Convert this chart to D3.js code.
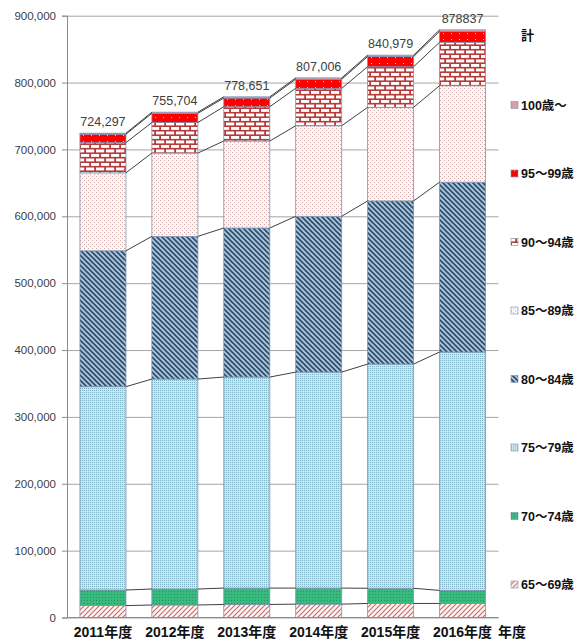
<!DOCTYPE html>
<html>
<head>
<meta charset="utf-8">
<script src="https://cdn.jsdelivr.net/npm/d3@7"></script>
<style>
  body { margin: 0; background: #fff; }
  svg { display: block; }
</style>
</head>
<body>
<svg id="chart" width="579" height="641"></svg>
<script>
// Fiscal years on the category axis
const years = ["2011年度", "2012年度", "2013年度", "2014年度", "2015年度", "2016年度"];
// Totals printed above each column
const totalLabels = ["724,297", "755,704", "778,651", "807,006", "840,979", "878837"];

// Counts per age band, one array per band
const age65_69 = [17800, 18700, 19500, 20000, 21000, 21000];
const age70_74 = [23300, 23900, 24500, 24000, 22700, 19500];
const age75_79 = [304100, 314000, 315600, 323000, 335300, 356500];
const age80_84 = [203200, 213400, 222900, 233000, 244000, 254000];
const age85_89 = [116600, 124600, 130100, 135400, 140000, 144300];
const age90_94 = [45200, 45600, 51300, 56000, 60700, 65000];
const age95_99 = [12600, 13800, 12900, 13600, 15200, 16200];
const age100up = [1497, 1704, 1851, 2006, 2079, 2337];

const seriesNames = ["65〜69歳", "70〜74歳", "75〜79歳", "80〜84歳", "85〜89歳", "90〜94歳", "95〜99歳", "100歳〜"];
const seriesValues = [age65_69, age70_74, age75_79, age80_84, age85_89, age90_94, age95_99, age100up];
const yTicks = [0, 100000, 200000, 300000, 400000, 500000, 600000, 700000, 800000, 900000];

const FONT = "'Liberation Sans', 'Noto Sans CJK JP', sans-serif";
const svg = d3.select("#chart");

// ---- fill patterns ----
const defs = svg.append("defs");
function pattern(id, w, h) {
  return defs.append("pattern").attr("id", id)
    .attr("patternUnits", "userSpaceOnUse").attr("width", w).attr("height", h);
}
// 65-69: thin pink up-diagonals on white
let p = pattern("p0", 5, 5);
p.append("rect").attr("width", 5).attr("height", 5).attr("fill", "#fdf4f4");
p.append("path").attr("d", "M-1,1 l2,-2 M0,5 l5,-5 M4,6 l2,-2")
  .attr("stroke", "#c46a6a").attr("stroke-width", 1.1);
// 70-74: green with fine dark dots
p = pattern("p1", 3, 3);
p.append("rect").attr("width", 3).attr("height", 3).attr("fill", "#38b97d");
p.append("rect").attr("width", 1).attr("height", 1).attr("fill", "#1f9862");
// 75-79: light blue stipple
p = pattern("p2", 2, 2);
p.append("rect").attr("width", 2).attr("height", 2).attr("fill", "#cfe5ec");
p.append("rect").attr("width", 1).attr("height", 1).attr("fill", "#7fb3c5");
// 80-84: navy down-diagonals on pale blue
p = pattern("p3", 5, 5);
p.append("rect").attr("width", 5).attr("height", 5).attr("fill", "#a9c6da");
p.append("path").attr("d", "M0,0 l5,5 M-1,4 l2,2 M4,-1 l2,2")
  .attr("stroke", "#2c4a6b").attr("stroke-width", 1.6);
// 85-89: sparse pink dots on white
p = pattern("p4", 4, 4);
p.append("rect").attr("width", 4).attr("height", 4).attr("fill", "#fdf8f8");
p.append("rect").attr("x", 0).attr("y", 0).attr("width", 1).attr("height", 1).attr("fill", "#d2a4a4");
p.append("rect").attr("x", 2).attr("y", 2).attr("width", 1).attr("height", 1).attr("fill", "#d2a4a4");
// 90-94: brick
p = pattern("p5", 10, 9);
p.append("rect").attr("width", 10).attr("height", 9).attr("fill", "#b63a3a");
p.append("rect").attr("x", 1).attr("y", 1).attr("width", 8.2).attr("height", 2.9).attr("fill", "#fff");
p.append("rect").attr("x", -4).attr("y", 5.5).attr("width", 8.2).attr("height", 2.9).attr("fill", "#fff");
p.append("rect").attr("x", 6).attr("y", 5.5).attr("width", 8.2).attr("height", 2.9).attr("fill", "#fff");
// 95-99: red with sparse light dots
p = pattern("p6", 8, 6);
p.append("rect").attr("width", 8).attr("height", 6).attr("fill", "#ff0000");
p.append("rect").attr("x", 3).attr("y", 3).attr("width", 1).attr("height", 1).attr("fill", "#ffb4b4");
// 100+: plain pink
p = pattern("p7", 4, 4);
p.append("rect").attr("width", 4).attr("height", 4).attr("fill", "#d8a0a6");

// ---- data table and stack ----
const table = years.map((yr, i) => {
  const row = { year: yr };
  seriesNames.forEach((s, k) => { row[s] = seriesValues[k][i]; });
  return row;
});
const stacked = d3.stack().keys(seriesNames)(table);

// ---- scales ----
const x = d3.scaleBand().domain(years).range([67, 498.5]).paddingInner(0.36).paddingOuter(0.18);
const y = d3.scaleLinear().domain([0, 900000]).range([617.5, 15.7]);
const bw = x.bandwidth();

// ---- gridlines ----
svg.append("g").attr("transform", "translate(67,0)")
  .call(d3.axisLeft(y).tickValues(yTicks).tickSize(-431.5).tickFormat(""))
  .call(g => g.select(".domain").remove())
  .call(g => g.selectAll("line").attr("stroke", "#a6a6a6").attr("stroke-width", 1));

// ---- bars ----
svg.append("g").selectAll("g").data(stacked).join("g")
  .attr("fill", (d, k) => `url(#p${k})`)
  .selectAll("rect").data(d => d).join("rect")
  .attr("x", d => x(d.data.year))
  .attr("y", d => y(d[1]))
  .attr("width", bw)
  .attr("height", d => y(d[0]) - y(d[1]))
  .attr("stroke", "#7f93b3").attr("stroke-width", 0.8);

// ---- series lines joining stack boundaries ----
const sl = svg.append("g").attr("stroke", "#404040").attr("stroke-width", 1).attr("fill", "none");
stacked.forEach(layer => {
  for (let i = 0; i < layer.length - 1; i++) {
    sl.append("line")
      .attr("x1", x(years[i]) + bw).attr("y1", y(layer[i][1]))
      .attr("x2", x(years[i + 1])).attr("y2", y(layer[i + 1][1]));
  }
});

// ---- y axis ----
svg.append("g").attr("transform", "translate(67,0)")
  .call(d3.axisLeft(y).tickValues(yTicks).tickSize(5).tickPadding(6).tickFormat(d3.format(",")))
  .call(g => g.select(".domain").attr("stroke", "#8c8c8c"))
  .call(g => g.selectAll("line").attr("stroke", "#8c8c8c"))
  .call(g => g.selectAll("text").attr("font-family", FONT).attr("font-size", "11.5px").attr("fill", "#404040"));

// baseline
svg.append("line").attr("x1", 67).attr("x2", 498.5).attr("y1", y(0)).attr("y2", y(0))
  .attr("stroke", "#8c8c8c");

// ---- category labels ----
svg.append("g").selectAll("text").data(years).join("text")
  .attr("x", d => x(d) + bw / 2).attr("y", 637)
  .attr("text-anchor", "middle")
  .attr("font-family", FONT).attr("font-size", "14px").attr("font-weight", "bold").attr("fill", "#111")
  .text(d => d);

svg.append("text").attr("x", 498).attr("y", 637)
  .attr("font-family", FONT).attr("font-size", "14px").attr("font-weight", "bold").attr("fill", "#111")
  .text("年度");

// ---- totals above columns ----
const topLayer = stacked[stacked.length - 1];
svg.append("g").selectAll("text").data(topLayer).join("text")
  .attr("x", d => x(d.data.year) + bw / 2).attr("y", d => y(d[1]) - 7)
  .attr("text-anchor", "middle")
  .attr("font-family", FONT).attr("font-size", "12.5px").attr("fill", "#404040")
  .text((d, i) => totalLabels[i]);

// ---- legend ----
svg.append("text").attr("x", 521).attr("y", 40)
  .attr("font-family", FONT).attr("font-size", "13px").attr("font-weight", "bold").attr("fill", "#111")
  .text("計");

const legendOrder = seriesNames.map((s, k) => ({ name: s, k })).reverse();
const lg = svg.append("g").selectAll("g").data(legendOrder).join("g")
  .attr("transform", (d, i) => `translate(511,${105 + i * 68.5})`);
lg.append("rect").attr("x", 0).attr("y", -3.5).attr("width", 7).attr("height", 7)
  .attr("fill", d => `url(#p${d.k})`).attr("stroke", "#7f93b3").attr("stroke-width", 0.6);
lg.append("text").attr("x", 10).attr("y", 4.5)
  .attr("font-family", FONT).attr("font-size", "12.5px").attr("font-weight", "bold").attr("fill", "#111")
  .text(d => d.name);
</script>
</body>
</html>
